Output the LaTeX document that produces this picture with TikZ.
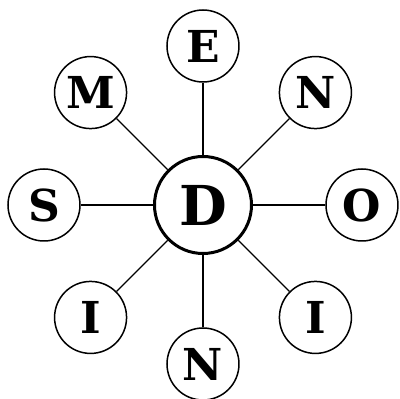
\documentclass[tikz,border=0pt]{standalone}
\usepackage{fontspec}
\newfontfamily\letterfont{DejaVu Serif}
\usepackage{tikz}

\begin{document}
\begin{tikzpicture}[x=1pt, y=1pt,
  leaf/.style={draw, circle, line width=1.5pt, minimum size=72pt, inner sep=0pt,
    font=\letterfont\bfseries\fontsize{44}{44}\selectfont},
  hub/.style={draw, circle, line width=3pt, minimum size=97pt, inner sep=0pt,
    font=\letterfont\bfseries\fontsize{55}{55}\selectfont}]
\useasboundingbox (-203,-194) rectangle (197,205);
\node[hub] (d) at (0,0) {D};
\foreach \name/\ang/\txt in {e/90/E, ne/45/N, o/0/O, se/-45/I, s/-90/N, sw/-135/I, w/180/S, nw/135/M} {
  \node[leaf] (\name) at (\ang:159) {\txt};
  \draw[line width=1.2pt] (d) -- (\name);
}
\end{tikzpicture}
\end{document}
